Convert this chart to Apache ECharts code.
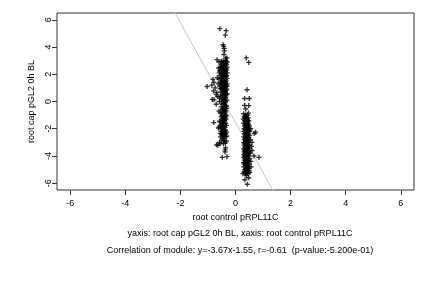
<!DOCTYPE html>
<html>
<head>
<meta charset="utf-8">
<script src="https://cdn.jsdelivr.net/npm/echarts@6/dist/echarts.min.js"></script>
<style>html,body{margin:0;padding:0;background:#fff;}#c{width:432px;height:288px;}</style>
</head>
<body>
<div id="c"></div>
<script>
// ---- data ----
const xTicks = [-6, -4, -2, 0, 2, 4, 6];
const yTicks = [-6, -4, -2, 0, 2, 4, 6];
const xTitle = 'root control pRPL11C';
const yTitle = 'root cap pGL2 0h BL';
const subtitle1 = 'yaxis: root cap pGL2 0h BL, xaxis: root control pRPL11C';
const subtitle2 = 'Correlation of module: y=-3.67x-1.55, r=-0.61  (p-value:-5.200e-01)';
const fitSlope = -3.67;
const fitIntercept = -1.55;

// cluster near x = -0.4
const clusterA = [
[-0.57,5.35],[-0.34,5.2],[-0.37,4.87],[-0.45,4.17],[-0.43,4.05],[-0.41,3.9],[-0.40,3.72],[-0.42,3.45],
[-0.67,3.07],[-0.31,3.2],[-0.36,3.18],[-0.52,2.95],[-0.60,2.9],
[-1.03,1.1],[-0.82,1.62],[-0.78,1.4],[-0.86,1.2],[-0.80,0.78],[-0.84,0.15],[-0.78,0.12],[-0.70,0.5],
[-0.68,0.65],[-0.74,1.0],[-0.66,1.75],[-0.70,-0.2],[-0.64,0.35],[-0.79,-1.55],[-0.69,-3.18],[-0.64,-3.22],
[-0.56,-3.1],[-0.58,-3.0],[-0.48,-4.1],[-0.31,-4.05],[-0.38,-3.55],[-0.38,-3.7],[-0.36,-3.4],[-0.47,-2.45],
[-0.55,-2.6],[-0.60,-1.9],[-0.62,-1.95],[-0.33,-2.9],[-0.32,-2.55],[-0.60,-0.7],[-0.58,0.0],[-0.63,1.3],
[-0.59,2.1],[-0.62,2.45],
[-0.36,3.0],[-0.45,3.0],[-0.40,2.9],[-0.30,2.9],[-0.48,2.8],[-0.35,2.8],[-0.42,2.7],[-0.33,2.7],[-0.52,2.7],
[-0.38,2.6],[-0.46,2.6],[-0.31,2.5],[-0.44,2.5],[-0.55,2.5],[-0.40,2.4],[-0.35,2.4],[-0.49,2.3],[-0.32,2.3],
[-0.43,2.3],[-0.37,2.2],[-0.53,2.2],[-0.45,2.1],[-0.30,2.1],[-0.41,2.1],[-0.50,2.0],[-0.36,2.0],[-0.33,1.9],
[-0.44,1.9],[-0.56,1.9],[-0.39,1.8],[-0.47,1.8],[-0.31,1.7],[-0.42,1.7],[-0.52,1.7],[-0.36,1.6],[-0.45,1.6],
[-0.49,1.5],[-0.34,1.5],[-0.41,1.5],[-0.38,1.4],[-0.55,1.4],[-0.44,1.3],[-0.30,1.3],[-0.47,1.3],[-0.35,1.2],
[-0.51,1.2],[-0.41,1.1],[-0.33,1.1],[-0.57,1.1],[-0.46,1.0],[-0.37,1.0],[-0.32,0.9],[-0.43,0.9],[-0.50,0.9],
[-0.39,0.8],[-0.35,0.8],[-0.45,0.7],[-0.53,0.7],[-0.36,0.6],[-0.41,0.6],[-0.48,0.5],[-0.33,0.5],[-0.40,0.4],
[-0.54,0.4],[-0.35,0.3],[-0.44,0.3],[-0.47,0.2],[-0.38,0.2],[-0.42,0.1],[-0.31,0.1],[-0.36,0.0],[-0.50,0.0],
[-0.44,-0.1],[-0.39,-0.2],[-0.48,-0.2],[-0.35,-0.3],[-0.43,-0.4],[-0.52,-0.4],[-0.38,-0.5],[-0.32,-0.5],
[-0.46,-0.6],[-0.41,-0.7],[-0.35,-0.7],[-0.49,-0.8],[-0.38,-0.8],[-0.44,-0.9],[-0.36,-1.0],[-0.47,-1.0],
[-0.41,-1.1],[-0.52,-1.1],[-0.38,-1.2],[-0.45,-1.2],[-0.50,-1.3],[-0.34,-1.3],[-0.43,-1.4],[-0.39,-1.4],
[-0.47,-1.5],[-0.55,-1.5],[-0.36,-1.6],[-0.44,-1.6],[-0.51,-1.7],[-0.40,-1.7],[-0.46,-1.8],[-0.56,-1.8],
[-0.38,-1.9],[-0.52,-1.9],[-0.44,-2.0],[-0.49,-2.0],[-0.41,-2.1],[-0.36,-2.1],[-0.47,-2.2],[-0.53,-2.2],
[-0.39,-2.3],[-0.44,-2.3],[-0.50,-2.4],[-0.35,-2.4],[-0.42,-2.5],[-0.47,-2.5],[-0.38,-2.6],[-0.45,-2.7],
[-0.41,-2.9],[-0.44,-3.1],
[-0.34,2.95],[-0.50,2.55],[-0.39,2.35],[-0.58,2.25],[-0.47,2.05],[-0.34,1.85],[-0.60,1.65],[-0.40,1.45],
[-0.52,1.35],[-0.31,1.15],[-0.43,1.05],[-0.55,0.95],[-0.38,0.75],[-0.30,0.55],[-0.46,0.45],[-0.57,0.25],
[-0.40,-0.05],[-0.33,-0.35],[-0.47,-0.55],[-0.55,-0.85],[-0.32,-1.05],[-0.42,-1.35],[-0.58,-1.45],[-0.33,-1.75],
[-0.48,-2.15],[-0.32,-2.25],[-0.55,-2.35],[-0.43,-2.75],[-0.50,-2.85],[-0.37,-3.05]
];

// cluster near x = 0.4
const clusterB = [
[0.39,3.2],[0.48,2.87],[0.42,0.86],[0.33,0.22],[0.50,0.22],[0.33,-0.28],[0.48,-0.3],[0.37,-0.55],[0.47,-0.85],
[0.73,-2.25],[0.68,-2.35],[0.85,-4.1],[0.67,-4.0],[0.60,-3.6],[0.58,-3.3],[0.56,-4.4],[0.34,-5.75],[0.48,-5.6],
[0.43,-6.08],[0.40,-5.45],[0.52,-5.2],[0.27,-5.3],[0.30,-4.5],[0.57,-4.8],[0.55,-2.0],[0.60,-3.0],[0.28,-1.3],
[0.30,-0.9],
[0.36,-1.0],[0.44,-1.0],[0.40,-1.1],[0.32,-1.1],[0.46,-1.2],[0.35,-1.2],[0.38,-1.3],[0.43,-1.3],[0.33,-1.4],
[0.48,-1.4],[0.40,-1.4],[0.42,-1.5],[0.36,-1.5],[0.30,-1.6],[0.45,-1.6],[0.39,-1.6],[0.47,-1.7],[0.35,-1.7],
[0.41,-1.8],[0.33,-1.8],[0.50,-1.8],[0.37,-1.9],[0.44,-1.9],[0.31,-2.0],[0.42,-2.0],[0.48,-2.0],[0.39,-2.1],
[0.35,-2.1],[0.45,-2.2],[0.30,-2.2],[0.52,-2.2],[0.37,-2.3],[0.42,-2.3],[0.33,-2.4],[0.47,-2.4],[0.40,-2.4],
[0.36,-2.5],[0.51,-2.5],[0.43,-2.6],[0.30,-2.6],[0.39,-2.6],[0.48,-2.7],[0.35,-2.7],[0.41,-2.8],[0.32,-2.8],
[0.54,-2.8],[0.37,-2.9],[0.45,-2.9],[0.30,-3.0],[0.42,-3.0],[0.49,-3.0],[0.38,-3.1],[0.34,-3.1],[0.46,-3.2],
[0.31,-3.2],[0.52,-3.2],[0.40,-3.3],[0.36,-3.3],[0.33,-3.4],[0.44,-3.4],[0.49,-3.4],[0.38,-3.5],[0.29,-3.5],
[0.42,-3.6],[0.35,-3.6],[0.51,-3.6],[0.31,-3.7],[0.46,-3.7],[0.39,-3.8],[0.34,-3.8],[0.53,-3.8],[0.43,-3.9],
[0.30,-3.9],[0.37,-4.0],[0.48,-4.0],[0.33,-4.0],[0.41,-4.1],[0.29,-4.1],[0.45,-4.2],[0.35,-4.2],[0.52,-4.2],
[0.32,-4.3],[0.40,-4.3],[0.47,-4.4],[0.36,-4.4],[0.38,-4.5],[0.43,-4.5],[0.31,-4.5],[0.34,-4.6],[0.50,-4.6],
[0.41,-4.7],[0.37,-4.7],[0.30,-4.8],[0.45,-4.8],[0.39,-4.9],[0.48,-4.9],[0.33,-5.0],[0.43,-5.0],[0.37,-5.1],
[0.50,-5.1],[0.31,-5.2],[0.42,-5.2],[0.36,-5.3],[0.46,-5.3],
[0.34,-1.25],[0.45,-1.45],[0.38,-1.75],[0.49,-2.15],[0.34,-2.35],[0.44,-2.55],[0.39,-2.85],[0.32,-3.05],
[0.47,-3.25],[0.41,-3.45],[0.33,-3.65],[0.48,-3.85],[0.39,-4.05],[0.44,-4.35],[0.35,-4.65],[0.47,-4.75],
[0.40,-4.95],[0.34,-5.15],[0.45,-5.05],[0.39,-5.25]
];

// ---- chart ----
const X_MIN = -6.48, X_MAX = 6.48, Y_MIN = -6.5, Y_MAX = 6.5;
const fitXs = [-3, 2];
const fitLine = fitXs.map(x => [x, fitSlope * x + fitIntercept]);
const plus = 'path://M2.2,0L3.8,0L3.8,2.2L6,2.2L6,3.8L3.8,3.8L3.8,6L2.2,6L2.2,3.8L0,3.8L0,2.2L2.2,2.2Z';
const font = 'Liberation Sans, Arial, Helvetica, sans-serif';

const chart = echarts.init(document.getElementById('c'), null, {renderer: 'canvas'});
chart.setOption({
  animation: false,
  backgroundColor: '#fff',
  grid: {left: 57, right: 18, top: 13, bottom: 98, show: true, borderColor: '#333', borderWidth: 1, backgroundColor: 'transparent'},
  xAxis: {
    type: 'value', min: X_MIN, max: X_MAX,
    name: xTitle, nameLocation: 'middle', nameGap: 23,
    nameTextStyle: {fontFamily: font, fontSize: 9, color: '#000'},
    axisLine: {show: false, onZero: false},
    splitLine: {show: false},
    axisTick: {show: true, inside: false, length: 5, customValues: xTicks, lineStyle: {color: '#333'}},
    axisLabel: {customValues: xTicks, margin: 9, fontFamily: font, fontSize: 9, color: '#000'}
  },
  yAxis: {
    type: 'value', min: Y_MIN, max: Y_MAX,
    name: yTitle, nameLocation: 'middle', nameGap: 16, nameRotate: 90,
    nameTextStyle: {fontFamily: font, fontSize: 9, color: '#000'},
    axisLine: {show: false, onZero: false},
    splitLine: {show: false},
    axisTick: {show: true, inside: false, length: 5, customValues: yTicks, lineStyle: {color: '#333'}},
    axisLabel: {customValues: yTicks, rotate: 90, margin: 4, fontFamily: font, fontSize: 9, color: '#000'}
  },
  title: [
    {text: subtitle1, left: 235, top: 224, textAlign: 'center', textStyle: {fontFamily: font, fontSize: 9, fontWeight: 'normal', color: '#000'}},
    {text: subtitle2, left: 235, top: 241, textAlign: 'center', textStyle: {fontFamily: font, fontSize: 9, fontWeight: 'normal', color: '#000'}}
  ],
  series: [
    {type: 'line', data: fitLine, symbol: 'none', clip: true, lineStyle: {color: '#c8c8c8', width: 1}, z: 1},
    {type: 'scatter', data: clusterA, symbol: plus, symbolSize: 5, itemStyle: {color: '#000'}, z: 2},
    {type: 'scatter', data: clusterB, symbol: plus, symbolSize: 5, itemStyle: {color: '#000'}, z: 2}
  ]
});
</script>
</body>
</html>
